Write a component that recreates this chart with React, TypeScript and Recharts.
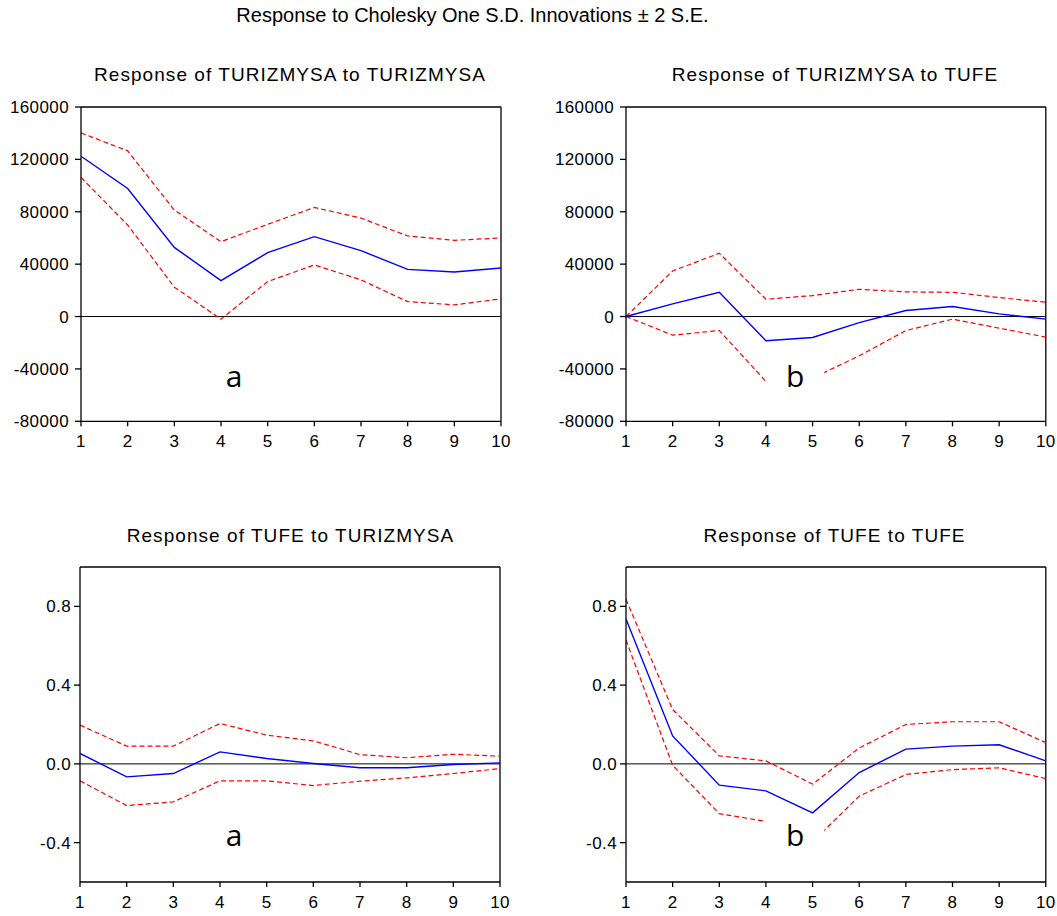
import React from 'react';
import { LineChart, Line, XAxis, YAxis, ReferenceLine, ReferenceArea } from 'recharts';

// ---------- data ----------
const periods = [1, 2, 3, 4, 5, 6, 7, 8, 9, 10];

// Response of TURIZMYSA to TURIZMYSA
const turTurResp = [122400, 97800, 52800, 27400, 48800, 61000, 50300, 36000, 34000, 37100];
const turTurUpper = [140200, 126500, 81300, 57200, 70400, 83300, 75200, 61500, 58200, 60000];
const turTurLower = [106200, 69900, 22400, -2000, 26700, 39400, 28000, 11400, 8900, 13500];

// Response of TURIZMYSA to TUFE
const turTufResp = [0, 9700, 18500, -18500, -16000, -4600, 4600, 7600, 2000, -2000];
const turTufUpper = [0, 34800, 48300, 13200, 16000, 20800, 18800, 18500, 14500, 10900];
const turTufLower = [0, -14200, -10700, -49500, -47000, -30000, -10700, -2000, -8900, -15700];

// Response of TUFE to TURIZMYSA
const tufTurResp = [0.053, -0.066, -0.049, 0.061, 0.027, 0.002, -0.02, -0.02, -0.003, 0.005];
const tufTurUpper = [0.197, 0.09, 0.09, 0.205, 0.146, 0.117, 0.047, 0.031, 0.049, 0.039];
const tufTurLower = [-0.086, -0.212, -0.193, -0.086, -0.086, -0.11, -0.088, -0.071, -0.049, -0.024];

// Response of TUFE to TUFE
const tufTufResp = [0.736, 0.142, -0.108, -0.137, -0.249, -0.044, 0.075, 0.09, 0.097, 0.015];
const tufTufUpper = [0.836, 0.276, 0.041, 0.015, -0.103, 0.081, 0.2, 0.214, 0.214, 0.108];
const tufTufLower = [0.629, -0.007, -0.253, -0.292, -0.395, -0.164, -0.054, -0.029, -0.02, -0.075];

const topTicks = [-80000, -40000, 0, 40000, 80000, 120000, 160000];
const bottomTicks = [-0.4, 0, 0.4, 0.8];
const topDomain = [-80000, 160000];
const bottomDomain = [-0.6, 1.0];

const mainTitle = 'Response to Cholesky One S.D. Innovations \u00b1 2 S.E.';
const panelTitles = [
  'Response of TURIZMYSA to TURIZMYSA',
  'Response of TURIZMYSA to TUFE',
  'Response of TUFE to TURIZMYSA',
  'Response of TUFE to TUFE',
];

const build = (resp: number[], up: number[], lo: number[]) =>
  periods.map((p, i) => ({ period: p, resp: resp[i], upper: up[i], lower: lo[i] }));

const FONT = '"Liberation Sans", Arial, sans-serif';

type Note = { text: string; x1: number; x2: number; y1: number; y2: number; mask: boolean };

type PanelProps = {
  data: any[];
  plotLeft: number;
  plotTop: number;
  plotW: number;
  plotH: number;
  yDomain: number[];
  yTicks: number[];
  fmt: (v: number) => string;
  tickMargin: number;
  note: Note;
};

const Panel = ({ data, plotLeft, plotTop, plotW, plotH, yDomain, yTicks, fmt, tickMargin, note }: PanelProps) => {
  const mL = 10, yw = 70, mT = 20, mR = 20, xh = 40;
  const tickStyle = { fontSize: 17, fill: '#000', fontFamily: FONT, letterSpacing: 0.4 };
  return (
    <div style={{ position: 'absolute', left: plotLeft - mL - yw, top: plotTop - mT }}>
      <LineChart
        width={mL + yw + plotW + mR}
        height={mT + plotH + xh}
        data={data}
        margin={{ top: mT, right: mR, bottom: 0, left: mL }}
      >
        <XAxis
          dataKey="period"
          type="number"
          domain={[1, 10]}
          ticks={periods}
          allowDataOverflow
          height={xh}
          axisLine={{ stroke: '#000', strokeWidth: 1.3 }}
          tickLine={{ stroke: '#000', strokeWidth: 1.3 }}
          tickSize={5}
          tickMargin={9}
          tick={tickStyle}
          interval={0}
        />
        <YAxis
          type="number"
          domain={yDomain}
          ticks={yTicks}
          allowDataOverflow
          width={yw}
          axisLine={{ stroke: '#000', strokeWidth: 1.3 }}
          tickLine={{ stroke: '#000', strokeWidth: 1.3 }}
          tickSize={6}
          tickMargin={tickMargin}
          tick={tickStyle}
          tickFormatter={fmt}
          interval={0}
        />
        <ReferenceLine y={0} stroke="#000" strokeWidth={1} />
        <ReferenceLine y={yDomain[1]} stroke="#000" strokeWidth={1.3} />
        <ReferenceLine x={10} stroke="#000" strokeWidth={1.3} />
        <Line dataKey="upper" stroke="#ff0000" strokeWidth={1.2} strokeDasharray="5 3" dot={false} isAnimationActive={false} />
        <Line dataKey="lower" stroke="#ff0000" strokeWidth={1.2} strokeDasharray="5 3" dot={false} isAnimationActive={false} />
        <Line dataKey="resp" stroke="#0000ff" strokeWidth={1.4} dot={false} isAnimationActive={false} />
        <ReferenceArea
          x1={note.x1}
          x2={note.x2}
          y1={note.y1}
          y2={note.y2}
          fill={note.mask ? '#ffffff' : 'none'}
          fillOpacity={note.mask ? 1 : 0}
          stroke="none"
          zIndex={1500}
          label={{ value: note.text, position: 'center', fontSize: 30, fill: '#000', fontFamily: '"Open Sans", sans-serif' }}
        />
      </LineChart>
    </div>
  );
};

const fmtTop = (v: number) => String(v);
const fmtBottom = (v: number) => v.toFixed(1);

export default function App() {
  const titleStyle = { fontFamily: FONT, fontSize: 19, letterSpacing: 1.05, fill: '#000' } as any;
  return (
    <div style={{ position: 'absolute', left: 0, top: 0, width: 1057, height: 916, background: '#fff' }}>
      <svg width={1057} height={916} style={{ position: 'absolute', left: 0, top: 0 }}>
        <text x={472.5} y={21.7} textAnchor="middle" style={{ fontFamily: FONT, fontSize: 20, fill: '#000' }}>
          {mainTitle}
        </text>
        <text x={290} y={80.7} textAnchor="middle" style={titleStyle}>{panelTitles[0]}</text>
        <text x={835} y={80.7} textAnchor="middle" style={titleStyle}>{panelTitles[1]}</text>
        <text x={290.5} y={541.5} textAnchor="middle" style={titleStyle}>{panelTitles[2]}</text>
        <text x={834.5} y={541.5} textAnchor="middle" style={titleStyle}>{panelTitles[3]}</text>
      </svg>
      <Panel
        data={build(turTurResp, turTurUpper, turTurLower)}
        plotLeft={80.5} plotTop={106.7} plotW={420} plotH={314.3}
        yDomain={topDomain} yTicks={topTicks} fmt={fmtTop} tickMargin={6}
        note={{ text: 'a', x1: 4.0, x2: 4.56, y1: -60000, y2: -32000, mask: false }}
      />
      <Panel
        data={build(turTufResp, turTufUpper, turTufLower)}
        plotLeft={625.7} plotTop={106.7} plotW={419.8} plotH={314.3}
        yDomain={topDomain} yTicks={topTicks} fmt={fmtTop} tickMargin={6}
        note={{ text: 'b', x1: 4.0, x2: 5.25, y1: -60000, y2: -31000, mask: true }}
      />
      <Panel
        data={build(tufTurResp, tufTurUpper, tufTurLower)}
        plotLeft={80.3} plotTop={567.3} plotW={420} plotH={315}
        yDomain={bottomDomain} yTicks={bottomTicks} fmt={fmtBottom} tickMargin={3}
        note={{ text: 'a', x1: 4.02, x2: 4.58, y1: -0.46, y2: -0.27, mask: false }}
      />
      <Panel
        data={build(tufTufResp, tufTufUpper, tufTufLower)}
        plotLeft={625.7} plotTop={567.3} plotW={419.8} plotH={315}
        yDomain={bottomDomain} yTicks={bottomTicks} fmt={fmtBottom} tickMargin={3}
        note={{ text: 'b', x1: 4.0, x2: 5.25, y1: -0.46, y2: -0.27, mask: true }}
      />
    </div>
  );
}
